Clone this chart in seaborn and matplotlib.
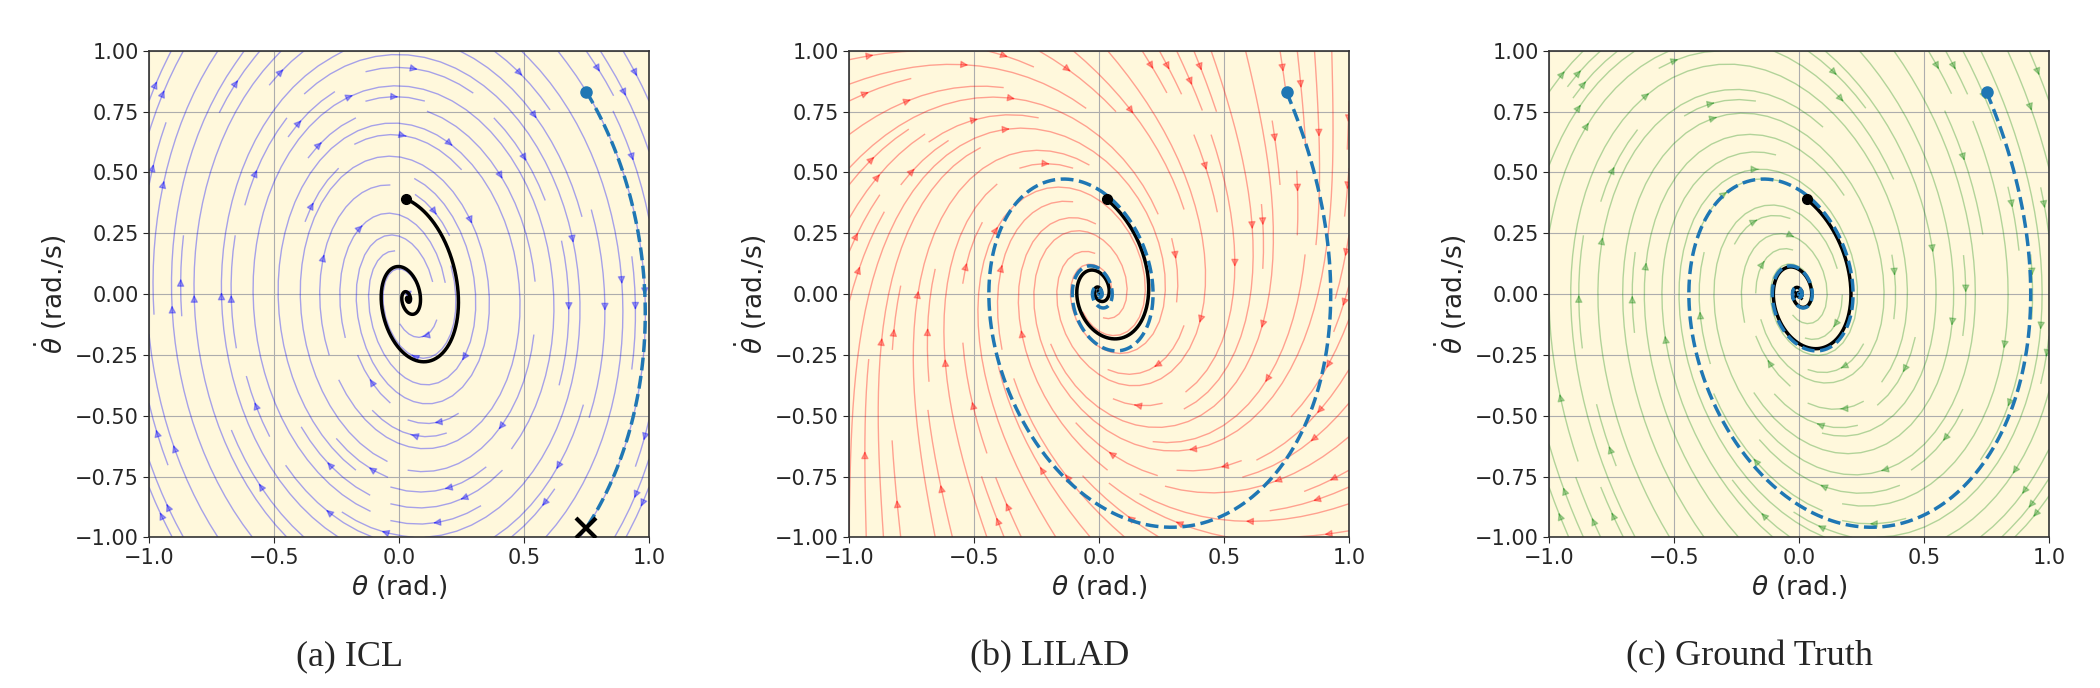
"""
Phase portraits of the damped pendulum: ICL vs LILAD vs ground truth.
"""

import numpy as np
import matplotlib
matplotlib.use("Agg")
import matplotlib.pyplot as plt
from matplotlib.colors import to_rgba
import seaborn as sns

# Axis ticks
theta_ticks = [-1.0, -0.5, 0.0, 0.5, 1.0]
omega_ticks = [-1.0, -0.75, -0.5, -0.25, 0.0, 0.25, 0.5, 0.75, 1.0]

panel_captions = ["(a) ICL", "(b) LILAD", "(c) Ground Truth"]
stream_colors = ["blue", "red", "green"]
stream_alpha = [0.35, 0.35, 0.3]

# Points
context_start = [0.75, 0.83]   # blue dot (context trajectory)
query_start = [0.03, 0.39]     # black dot (query trajectory)
icl_end = [0.75, -0.96]        # big X in (a)
gt_end = [-0.01, 0.0]          # small x in (c)

# Ground truth damped pendulum: theta'' = -gl*sin(theta) - b*theta'
gt_gl = 2.15
gt_b = 0.64

# LILAD learned field: linear part plus a cubic pull towards the centre
lilad_A = [[-0.05, 1.0], [-1.95, -0.62]]
lilad_pull = 0.5
lilad_centre = [0.0, 0.01]

# ICL field: almost conservative outside, damped near the centre
icl_centre = [0.035, -0.02]
icl_tilt = 0.063
icl_k = [2.05, 2.9]    # stiffness outside / inside
icl_c = [0.0, 0.8]     # damping outside / inside
icl_r0 = 0.35


def gt_field(th, om):
    return om, -gt_gl * np.sin(th) - gt_b * om


def lilad_field(th, om):
    x = th - lilad_centre[0]
    y = om - lilad_centre[1]
    r2 = x ** 2 + y ** 2
    return (lilad_A[0][0] * x + lilad_A[0][1] * y - lilad_pull * r2 * x,
            lilad_A[1][0] * x + lilad_A[1][1] * y - lilad_pull * r2 * y)


def icl_field(th, om):
    x = th - icl_centre[0]
    y = om - icl_centre[1]
    w = np.exp(-(x ** 2 + (y / 1.5) ** 2) / icl_r0 ** 2)
    k = icl_k[0] + (icl_k[1] - icl_k[0]) * w
    c = icl_c[0] + (icl_c[1] - icl_c[0]) * w
    return y + icl_tilt * x, -k * x - icl_tilt * y - c * y


def integrate(field, start, t_end, dt=0.01, stop=None):
    s = np.array(start, dtype=float)
    f = lambda p: np.array(field(p[0], p[1]))
    pts = [s.copy()]
    for _ in range(int(t_end / dt)):
        k1 = f(s)
        k2 = f(s + 0.5 * dt * k1)
        k3 = f(s + 0.5 * dt * k2)
        k4 = f(s + dt * k3)
        s = s + dt / 6 * (k1 + 2 * k2 + 2 * k3 + k4)
        pts.append(s.copy())
        if stop is not None and stop(s):
            break
    return np.array(pts)


icl_stop = lambda s: s[1] < 0 and s[0] <= icl_end[0]

fields = [icl_field, lilad_field, gt_field]
gt_context = integrate(gt_field, context_start, 30)
context_trajs = [integrate(icl_field, context_start, 10, stop=icl_stop),
                 gt_context, gt_context]
query_trajs = [integrate(f, query_start, 30) for f in fields]

sns.set_style("ticks", {"axes.grid": True, "grid.color": "0.68",
                        "axes.edgecolor": "0.2"})
plt.rcParams["font.family"] = "DejaVu Sans"
plt.rcParams["mathtext.fontset"] = "dejavusans"

fig = plt.figure(figsize=(21, 6.88), dpi=100)
grid = np.linspace(-1, 1, 60)
TH, OM = np.meshgrid(grid, grid)

for i in range(3):
    ax = fig.add_axes([(149 + 700 * i) / 2100, 0.219, 500 / 2100, 0.7073])
    ax.set_facecolor("cornsilk")
    U, V = fields[i](TH, OM)
    ax.streamplot(TH, OM, U, V, density=1.0, linewidth=1.0, arrowsize=1.1,
                  color=to_rgba(stream_colors[i], stream_alpha[i]))

    q = query_trajs[i]
    sns.lineplot(x=q[:, 0], y=q[:, 1], sort=False, estimator=None,
                 color="black", lw=2.5, ax=ax, zorder=4)
    c = context_trajs[i]
    sns.lineplot(x=c[:, 0], y=c[:, 1], sort=False, estimator=None,
                 color="#1f77b4", lw=2.5, ls="--", ax=ax, zorder=5)

    ax.plot(*context_start, "o", color="#1f77b4", ms=8, zorder=6)
    ax.plot(*query_start, "o", color="black", ms=7, zorder=6)
    if i == 0:
        ax.plot(*icl_end, "x", color="black", ms=14, mew=3, zorder=7)
    if i == 2:
        ax.plot(*gt_end, "x", color="black", ms=7, mew=2, zorder=4)

    ax.set_xlim(-1, 1)
    ax.set_ylim(-1, 1)
    ax.set_xticks(theta_ticks)
    ax.set_yticks(omega_ticks)
    ax.tick_params(labelsize=15, length=4)
    ax.set_xlabel(r"$\theta$ (rad.)", fontsize=19)
    ax.set_ylabel(r"$\dot{\theta}$ (rad./s)", fontsize=19)
    for sp in ax.spines.values():
        sp.set_visible(True)
        sp.set_linewidth(1.2)

    fig.text((350 + 700 * i) / 2100, 0.045, panel_captions[i],
             ha="center", va="center", fontsize=26, family="Liberation Serif")

fig.savefig("out.png", dpi=100)
